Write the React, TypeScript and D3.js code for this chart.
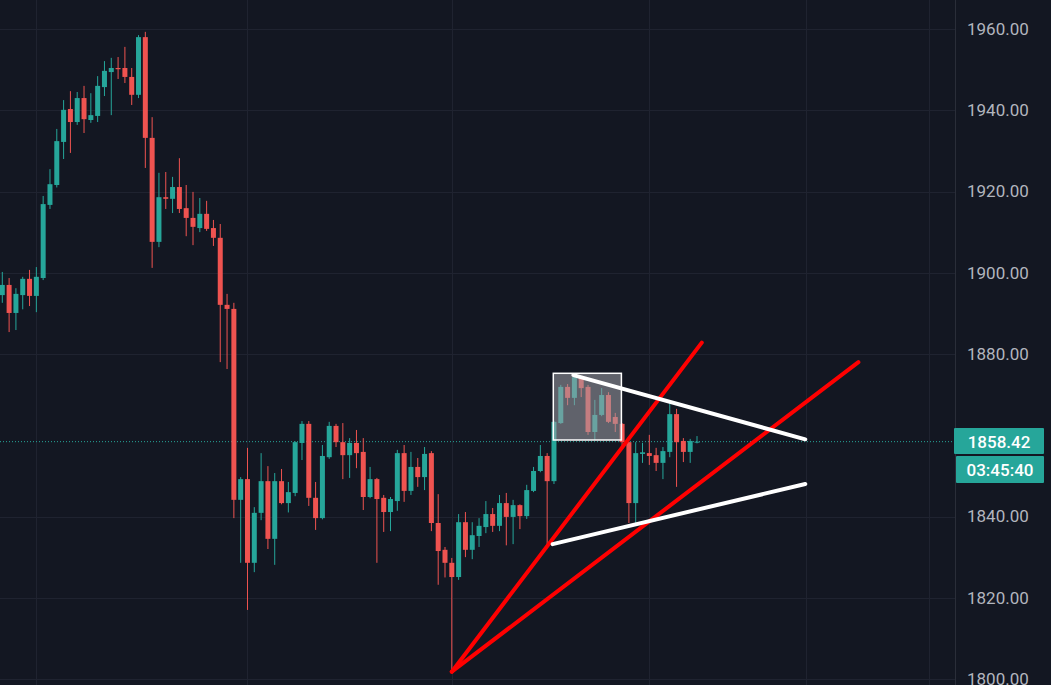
import React from "react";
import * as d3 from "d3";

const opens = [1894.5,1897.0,1890.1,1894.5,1898.5,1894.3,1898.7,1916.7,1921.6,1932.2,1940.3,1937.1,1943.0,1937.6,1938.6,1945.7,1949.4,1950.4,1950.4,1948.2,1943.8,1958.0,1933.2,1907.6,1918.6,1918.2,1921.1,1915.9,1913.5,1911.0,1914.5,1911.0,1908.6,1892.1,1891.1,1844.1,1849.2,1828.6,1840.9,1848.7,1834.5,1848.7,1843.3,1845.8,1858.1,1862.8,1844.6,1839.6,1854.6,1862.3,1858.3,1855.1,1858.1,1855.9,1844.8,1849.2,1844.6,1841.1,1843.8,1855.6,1846.3,1852.2,1849.7,1855.6,1838.4,1831.8,1828.6,1825.1,1838.6,1831.8,1835.2,1837.4,1840.6,1837.7,1843.3,1839.9,1842.8,1840.1,1846.3,1851.2,1854.9,1848.7,1863.0,1871.9,1869.2,1874.1,1871.9,1860.8,1865.0,1869.9,1864.5,1862.8,1858.3,1843.3,1855.4,1855.6,1855.1,1853.2,1855.9,1865.2,1858.6,1855.9,1858.2];
const highs = [1900.2,1898.7,1896.2,1899.0,1900.7,1901.4,1918.9,1925.5,1935.4,1942.5,1944.7,1944.5,1946.0,1944.2,1948.4,1952.1,1952.9,1953.1,1955.6,1950.4,1958.5,1959.3,1938.3,1924.6,1924.8,1923.6,1928.2,1921.6,1919.9,1918.4,1917.7,1913.0,1912.0,1894.8,1892.6,1849.7,1856.9,1842.3,1855.6,1852.4,1850.7,1851.7,1848.5,1858.5,1863.5,1863.5,1848.5,1857.6,1863.3,1862.8,1863.0,1859.3,1861.3,1859.3,1852.2,1849.5,1845.3,1844.8,1856.4,1857.6,1855.9,1854.4,1857.1,1856.1,1845.5,1832.5,1829.8,1840.6,1841.1,1838.6,1839.6,1843.8,1842.1,1845.3,1845.8,1844.1,1843.0,1847.8,1852.2,1857.6,1855.6,1863.5,1872.4,1872.6,1875.3,1874.3,1872.4,1868.7,1871.6,1870.6,1865.5,1863.0,1858.5,1858.3,1858.1,1860.1,1856.9,1857.1,1867.9,1866.5,1859.3,1859.1,1859.8];
const lows = [1892.6,1885.4,1885.9,1891.0,1891.8,1890.3,1898.2,1915.7,1921.0,1928.0,1929.5,1936.4,1934.4,1936.9,1937.1,1943.5,1938.8,1947.7,1946.7,1941.3,1943.0,1925.8,1901.2,1906.3,1915.7,1914.7,1914.7,1909.0,1906.8,1910.0,1910.3,1906.6,1878.0,1876.3,1839.6,1828.6,1817.0,1826.3,1839.1,1832.0,1828.1,1843.0,1841.0,1845.0,1853.9,1842.6,1836.7,1839.3,1854.2,1857.1,1849.2,1849.5,1851.9,1841.6,1844.5,1828.6,1836.2,1836.4,1841.4,1843.6,1845.3,1847.3,1846.5,1836.4,1823.2,1825.0,1802.0,1824.4,1830.0,1829.5,1832.5,1835.9,1836.2,1836.4,1832.9,1833.2,1836.9,1839.4,1846.0,1850.9,1832.5,1848.0,1862.8,1867.4,1867.4,1869.4,1860.1,1858.8,1864.7,1863.0,1860.8,1857.4,1838.4,1838.4,1853.2,1852.7,1851.2,1849.2,1854.6,1847.3,1853.4,1853.2,1858.0];
const closes = [1897.0,1890.1,1894.8,1898.5,1894.3,1899.0,1916.9,1921.8,1932.4,1940.1,1937.1,1943.0,1937.8,1938.8,1946.0,1949.7,1950.4,1950.1,1948.2,1943.8,1958.0,1933.2,1907.6,1918.6,1918.2,1921.1,1915.7,1913.5,1911.3,1914.5,1910.8,1908.6,1892.1,1891.1,1844.1,1849.2,1828.6,1840.9,1848.7,1834.5,1848.7,1843.3,1846.0,1858.3,1862.8,1844.6,1839.6,1854.9,1862.3,1858.3,1855.1,1858.1,1855.6,1844.8,1849.2,1844.3,1841.1,1844.3,1855.6,1846.3,1852.2,1849.7,1855.4,1838.4,1831.5,1828.6,1825.1,1838.6,1831.8,1835.4,1837.7,1840.6,1837.7,1843.3,1839.9,1842.8,1840.1,1846.5,1851.2,1854.9,1848.7,1863.3,1871.9,1869.2,1874.3,1871.6,1860.8,1865.0,1869.9,1863.3,1862.8,1858.3,1843.3,1855.6,1855.8,1854.9,1853.2,1856.1,1865.2,1858.3,1855.9,1858.6,1858.42];

const priceTicks = [1960, 1940, 1920, 1900, 1880, 1840, 1820, 1800];
const timeGridIdx = [5, 36, 66, 95, 118, 136];
const lastPrice = 1858.42;
const countdown = "03:45:40";

// drawings: [startIndex, startPrice, endIndex, endPrice]
const redLines = [
  [66.0, 1801.8, 102.7, 1882.8],
  [66.0, 1801.8, 125.7, 1878.0],
];
const whiteLines = [
  [83.85, 1874.8, 117.9, 1859.0],
  [80.8, 1833.2, 117.9, 1848.0],
];
const boxIdx = [80.9, 90.9];
const boxPrice = [1858.83, 1875.25];

const W = 1051;
const H = 685;
const AXIS_X = 955;
const UP = "#26a69a";
const DOWN = "#ef5350";
const BG = "#131722";
const GRID = "#1f2330";

export default function App() {
  const x = d3.scaleLinear().domain([0, 102]).range([2.3, 697]);
  const y = d3.scaleLinear().domain([1800, 1960]).range([679, 29]);
  const fmt = d3.format(".2f");
  const line = d3.line<[number, number]>().x((d) => x(d[0])).y((d) => y(d[1]));
  const bodyW = 5;

  return (
    <svg
      width={W}
      height={H}
      style={{ position: "fixed", left: 0, top: 0, display: "block", background: BG }}
      fontFamily="Roboto, 'Liberation Sans', sans-serif"
    >
      <defs>
        <clipPath id="plot">
          <rect x={0} y={0} width={AXIS_X} height={H} />
        </clipPath>
      </defs>
      <rect x={0} y={0} width={W} height={H} fill={BG} />
      <g clipPath="url(#plot)">
        {priceTicks.map((p) => (
          <line key={"h" + p} x1={0} x2={AXIS_X} y1={Math.round(y(p)) + 0.5} y2={Math.round(y(p)) + 0.5} stroke={GRID} strokeWidth={1} />
        ))}
        {timeGridIdx.map((t) => (
          <line key={"v" + t} y1={0} y2={H} x1={Math.round(x(t)) + 0.5} x2={Math.round(x(t)) + 0.5} stroke={GRID} strokeWidth={1} />
        ))}
        <line x1={0} x2={AXIS_X} y1={y(lastPrice)} y2={y(lastPrice)} stroke={UP} strokeWidth={1} strokeDasharray="1 2" />
        {opens.map((o, i) => {
          const c = closes[i];
          const up = c >= o;
          const col = up ? UP : DOWN;
          const cx = x(i);
          const top = y(Math.max(o, c));
          const bot = y(Math.min(o, c));
          return (
            <g key={i}>
              <line x1={cx} x2={cx} y1={y(highs[i])} y2={y(lows[i])} stroke={col} strokeWidth={1} />
              <rect x={cx - bodyW / 2} y={top} width={bodyW} height={Math.max(1, bot - top)} fill={col} />
            </g>
          );
        })}
        <rect
          x={x(boxIdx[0])}
          y={y(boxPrice[1])}
          width={x(boxIdx[1]) - x(boxIdx[0])}
          height={y(boxPrice[0]) - y(boxPrice[1])}
          fill="rgba(160,160,168,0.55)"
          stroke="#ffffff"
          strokeWidth={1.5}
        />
        {redLines.map((l, i) => (
          <path key={"r" + i} d={line([[l[0], l[1]], [l[2], l[3]]]) || ""} stroke="#ff0000" strokeWidth={4} strokeLinecap="round" fill="none" />
        ))}
        {whiteLines.map((l, i) => (
          <path key={"w" + i} d={line([[l[0], l[1]], [l[2], l[3]]]) || ""} stroke="#ffffff" strokeWidth={4} strokeLinecap="round" fill="none" />
        ))}
      </g>
      <line x1={AXIS_X + 0.5} x2={AXIS_X + 0.5} y1={0} y2={H} stroke="#2a2e39" strokeWidth={1} />
      {priceTicks.map((p) => (
        <text key={"t" + p} x={967} y={y(p)} dy="0.35em" fontSize={17} fill="#b2b5be">
          {fmt(p)}
        </text>
      ))}
      <rect x={954} y={428} width={90} height={26} fill={UP} rx={1} />
      <text x={999} y={441.5} dy="0.36em" textAnchor="middle" fontSize={17} fill="#ffffff" fontWeight={500}>
        {fmt(lastPrice)}
      </text>
      <rect x={956} y={456} width={88} height={27} fill={UP} rx={1} />
      <text x={1000} y={469.5} dy="0.36em" textAnchor="middle" fontSize={17} fill="#ffffff" fontWeight={500}>
        {countdown}
      </text>
    </svg>
  );
}
